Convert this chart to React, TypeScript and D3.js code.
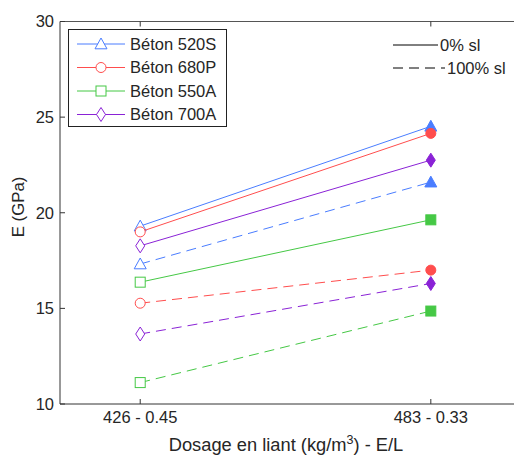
import React from "react";
import * as d3 from "d3";

const categories = ["426 - 0.45", "483 - 0.33"];
const seriesNames = ["Béton 520S", "Béton 680P", "Béton 550A", "Béton 700A"];
const seriesColors = ["#4a7dff", "#ff4d4d", "#45c845", "#8a22d6"];
const seriesMarkers = ["triangle", "circle", "square", "diamond"];
const values0 = [
  [19.3, 24.52],
  [19.0, 24.15],
  [16.37, 19.63],
  [18.27, 22.75],
];
const values100 = [
  [17.32, 21.6],
  [15.27, 17.0],
  [11.12, 14.86],
  [13.66, 16.3],
];
const yTicks = [10, 15, 20, 25, 30];
const styleNames = ["0% sl", "100% sl"];

const W = 514;
const H = 455;
const font = "'Liberation Sans', Arial, sans-serif";
const FS = 16.5;
const textColor = "#262626";

function Marker({ type, cx, cy, color, filled }: any) {
  const fill = filled ? color : "#fff";
  const sw = 1;
  if (type === "triangle") {
    const s = 6;
    const pts = `${cx},${cy - s} ${cx + s},${cy + s * 0.8} ${cx - s},${cy + s * 0.8}`;
    return <polygon points={pts} fill={fill} stroke={color} strokeWidth={sw} />;
  }
  if (type === "circle") {
    return <circle cx={cx} cy={cy} r={5} fill={fill} stroke={color} strokeWidth={sw} />;
  }
  if (type === "square") {
    return <rect x={cx - 5} y={cy - 5} width={10} height={10} fill={fill} stroke={color} strokeWidth={sw} />;
  }
  const pts = `${cx},${cy - 7} ${cx + 4.5},${cy} ${cx},${cy + 7} ${cx - 4.5},${cy}`;
  return <polygon points={pts} fill={fill} stroke={color} strokeWidth={sw} />;
}

export default function App() {
  const left = 60, right = 518, top = 21.5, bottom = 404;
  const x = d3.scaleLinear().domain([0.724, 2.3]).range([left, right]);
  const y = d3.scaleLinear().domain([10, 30]).range([bottom, top]);
  const line = d3
    .line<[number, number]>()
    .x((d) => d[0])
    .y((d) => d[1]);

  const dash = "10,6";

  return (
    <svg
      width={W}
      height={H}
      style={{ position: "absolute", left: 0, top: 0, background: "#fff" }}
      fontFamily={font}
    >
      <rect x={0} y={0} width={W} height={H} fill="#fff" />
      {/* axes box */}
      <line x1={left} x2={left} y1={top} y2={bottom} stroke="#333" strokeWidth={1} />
      <line x1={left} x2={right} y1={bottom} y2={bottom} stroke="#333" strokeWidth={1} />
      <line x1={left} x2={right} y1={top} y2={top} stroke="#555" strokeWidth={1.2} />
      {/* y ticks */}
      {yTicks.map((t) => (
        <g key={t}>
          <line x1={left} x2={left + 5} y1={y(t)} y2={y(t)} stroke="#333" />
          <text x={left - 6} y={y(t)} dy="0.36em" textAnchor="end" fontSize={FS} fill={textColor}>
            {t}
          </text>
        </g>
      ))}
      {/* x ticks */}
      {categories.map((c, i) => (
        <g key={c}>
          <line x1={x(i + 1)} x2={x(i + 1)} y1={bottom} y2={bottom - 5} stroke="#333" />
          <line x1={x(i + 1)} x2={x(i + 1)} y1={top} y2={top + 5} stroke="#333" />
          <text x={x(i + 1)} y={bottom + 19} textAnchor="middle" fontSize={FS} fill={textColor}>
            {c}
          </text>
        </g>
      ))}
      <text x={286} y={451} textAnchor="middle" fontSize={18.3} fill={textColor}>
        Dosage en liant (kg/m<tspan dy={-7} fontSize={12.5}>3</tspan>
        <tspan dy={7}>) - E/L</tspan>
      </text>
      <text
        transform={`translate(24, 207) rotate(-90)`}
        textAnchor="middle"
        fontSize={16.8}
        fill={textColor}
      >
        E (GPa)
      </text>

      {/* series */}
      {seriesNames.map((n, i) => {
        const p0: [number, number][] = values0[i].map((v, j) => [x(j + 1), y(v)]);
        const p1: [number, number][] = values100[i].map((v, j) => [x(j + 1), y(v)]);
        return (
          <g key={n}>
            <path d={line(p0) || ""} fill="none" stroke={seriesColors[i]} strokeWidth={1} />
            <path d={line(p1) || ""} fill="none" stroke={seriesColors[i]} strokeWidth={1} strokeDasharray={dash} />
            {[p0, p1].map((pts, k) =>
              pts.map((p, j) => (
                <Marker
                  key={`${k}-${j}`}
                  type={seriesMarkers[i]}
                  cx={p[0]}
                  cy={p[1]}
                  color={seriesColors[i]}
                  filled={j === 1}
                />
              ))
            )}
          </g>
        );
      })}

      {/* legend */}
      <rect x={68.5} y={29.5} width={158} height={97} fill="#fff" stroke="#222" strokeWidth={1} />
      {seriesNames.map((n, i) => {
        const ly = 44 + i * 23.5;
        return (
          <g key={n}>
            <line x1={77} x2={125} y1={ly} y2={ly} stroke={seriesColors[i]} />
            <Marker type={seriesMarkers[i]} cx={101} cy={ly} color={seriesColors[i]} filled={false} />
            <text x={130} y={ly} dy="0.36em" fontSize={FS} fill={textColor}>
              {n}
            </text>
          </g>
        );
      })}
      <line x1={393} x2={438} y1={45} y2={45} stroke="#000" />
      <text x={440} y={45} dy="0.36em" fontSize={FS} fill={textColor}>
        {styleNames[0]}
      </text>
      <line x1={393} x2={445} y1={68} y2={68} stroke="#000" strokeDasharray={dash} />
      <text x={447} y={68} dy="0.36em" fontSize={FS} fill={textColor}>
        {styleNames[1]}
      </text>
    </svg>
  );
}
